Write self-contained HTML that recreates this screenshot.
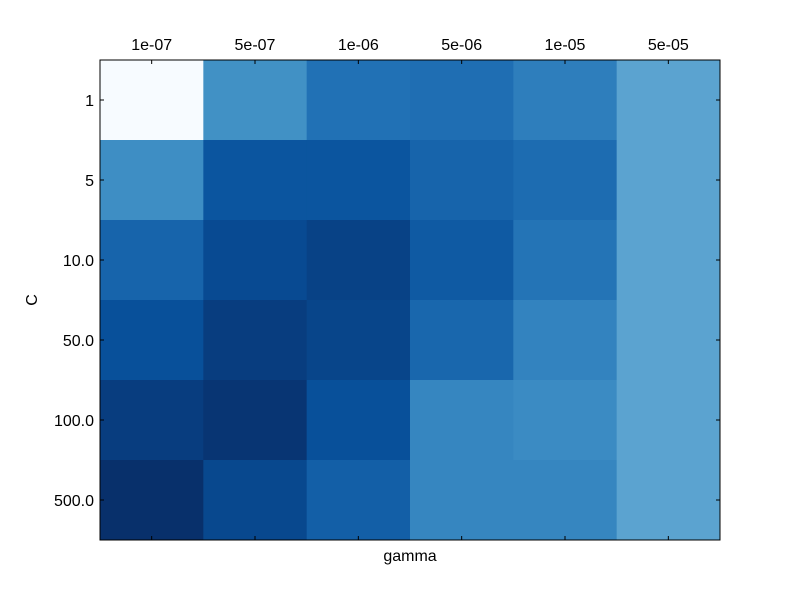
<!DOCTYPE html>
<html><head><meta charset="utf-8"><style>
html,body{margin:0;padding:0;background:#fff;}
svg text{font-family:"Liberation Sans",sans-serif;font-size:16px;fill:#000;}
</style></head><body>
<svg id="chart" width="800" height="600">
<rect width="800" height="600" fill="#fff"/>
<g id="cells"></g><g id="axes"></g>
</svg>
<script>
const gammaLabels = ["1e-07","5e-07","1e-06","5e-06","1e-05","5e-05"];
const cLabels = ["1","5","10.0","50.0","100.0","500.0"];
const row1 = [0.0, 0.63, 0.75, 0.76, 0.70, 0.55];
const row5 = [0.64, 0.86, 0.86, 0.80, 0.77, 0.55];
const row10 = [0.80, 0.90, 0.93, 0.84, 0.74, 0.55];
const row50 = [0.88, 0.95, 0.92, 0.79, 0.68, 0.55];
const row100 = [0.95, 0.98, 0.88, 0.67, 0.65, 0.55];
const row500 = [1.0, 0.91, 0.82, 0.67, 0.67, 0.55];
const values = [row1, row5, row10, row50, row100, row500];

const NS = "http://www.w3.org/2000/svg";
const L = 100, T = 60, W = 620, H = 480;
const cw = W / gammaLabels.length, ch = H / cLabels.length;
const xPos = i => L + i * cw;
const yPos = j => T + j * ch;
const stops = ["#f7fbff","#deebf7","#c6dbef","#9ecae1","#6baed6","#4292c6","#2171b5","#08519c","#08306b"];
function hex(h){return [1,3,5].map(k=>parseInt(h.substr(k,2),16));}
function blues(v){
  v = Math.max(0, Math.min(1, v));
  const p = v * 8, i = Math.min(7, Math.floor(p)), f = p - i;
  const a = hex(stops[i]), b = hex(stops[i+1]);
  return "rgb(" + a.map((c,k)=>Math.round(c + (b[k]-c)*f)).join(",") + ")";
}
function mk(tag, attrs, parent){
  const e = document.createElementNS(NS, tag);
  for (const k in attrs) e.setAttribute(k, attrs[k]);
  parent.appendChild(e); return e;
}
const cells = document.getElementById("cells"), axes = document.getElementById("axes");
values.forEach((row, j) => row.forEach((v, i) => {
  const r = mk("rect", {x: xPos(i), y: yPos(j), width: cw + 0.5, height: ch + 0.5, fill: blues(v)}, cells);
  
  
}));
const frame = mk("rect", {x: L, y: T, width: W, height: H, fill: "none", stroke: "#000", "stroke-width": 1}, axes);


gammaLabels.forEach((g, i) => {
  const cx = xPos(i) + cw / 2;
  mk("line", {x1: cx, y1: T, x2: cx, y2: T + 4, stroke: "#000"}, axes);
  mk("line", {x1: cx, y1: T + H, x2: cx, y2: T + H - 4, stroke: "#000"}, axes);
  const t = mk("text", {x: cx, y: T - 10, "text-anchor": "middle"}, axes);
  t.textContent = g;
  
  
});
cLabels.forEach((c, j) => {
  const cy = yPos(j) + ch / 2;
  mk("line", {x1: L, y1: cy, x2: L + 4, y2: cy, stroke: "#000"}, axes);
  mk("line", {x1: L + W, y1: cy, x2: L + W - 4, y2: cy, stroke: "#000"}, axes);
  const t = mk("text", {x: L - 6, y: cy + 6, "text-anchor": "end"}, axes);
  t.textContent = c;
  
  
});
const xt = mk("text", {x: L + W / 2, y: 561, "text-anchor": "middle"}, axes);
xt.textContent = "gamma";


const yt = mk("text", {x: 37, y: T + H / 2, "text-anchor": "middle", transform: "rotate(-90 37 " + (T + H / 2) + ")"}, axes);
yt.textContent = "C";


</script>
</body></html>
